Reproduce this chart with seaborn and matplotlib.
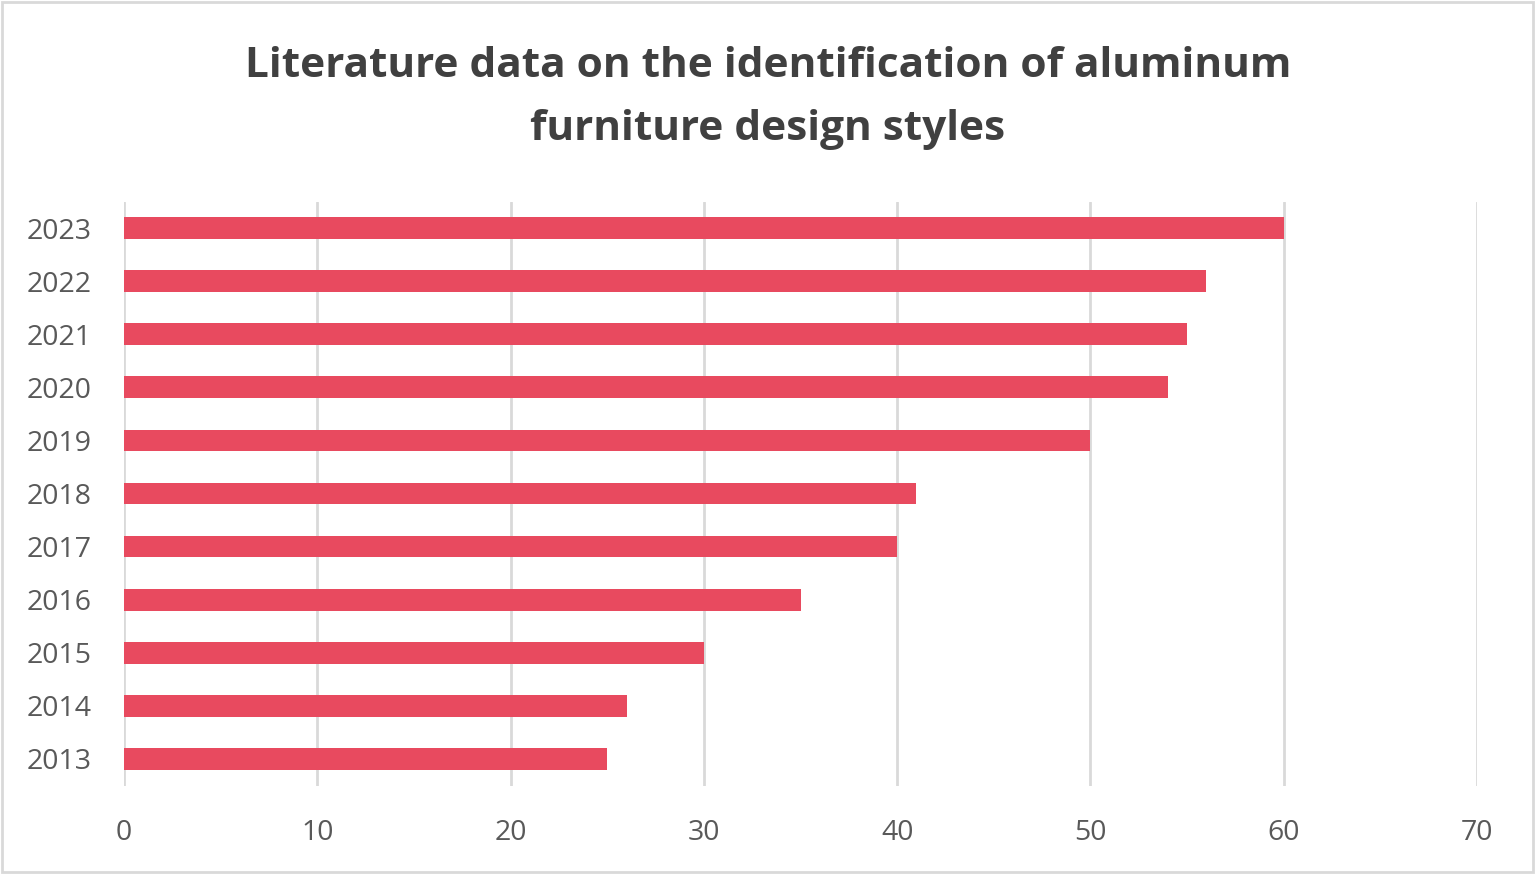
import matplotlib
matplotlib.use("Agg")
import matplotlib.pyplot as plt
import seaborn as sns
import pandas as pd
from matplotlib.patches import Rectangle

years = ["2023", "2022", "2021", "2020", "2019", "2018", "2017", "2016", "2015", "2014", "2013"]
counts = [60, 56, 55, 54, 50, 41, 40, 35, 30, 26, 25]
x_ticks = [0, 10, 20, 30, 40, 50, 60, 70]
title = "Literature data on the identification of aluminum\nfurniture design styles"

sns.set_theme(style="white")
plt.rcParams['font.family'] = ['Open Sans', 'DejaVu Sans']

df = pd.DataFrame({"year": years, "count": counts})

fig = plt.figure(figsize=(15.36, 8.74), dpi=100)
ax = fig.add_axes([124/1536, 1 - 785.5/874, (1477-124)/1536, (785.5-201.5)/874])

ax.set_axisbelow(True)
ax.grid(axis="x", color="#d9d9d9", linewidth=2)
ax.grid(axis="y", visible=False)

sns.barplot(data=df, x="count", y="year", order=years, color="#E84A5F",
            saturation=1, width=0.41, ax=ax, edgecolor="none")

ax.set_xlim(0, 70)
ax.set_xticks(x_ticks)
ax.set_xticklabels([str(t) for t in x_ticks])
for s in ax.spines.values():
    s.set_visible(False)
ax.set_xlabel("")
ax.set_ylabel("")
ax.tick_params(axis="x", labelsize=20.5, colors="#595959", length=0, pad=24)
ax.tick_params(axis="y", labelsize=20.5, colors="#595959", length=0, pad=23)

fig.text(0.5, 1 - 98/874, title, ha="center", va="center", fontsize=30.5,
         fontweight="bold", color="#404040", linespacing=1.68)

fig.patches.append(Rectangle((0.001, 0.002), 0.997, 0.996, transform=fig.transFigure,
                             fill=False, edgecolor="#d9d9d9", linewidth=2))

fig.savefig("out.png", dpi=100, facecolor="white")
